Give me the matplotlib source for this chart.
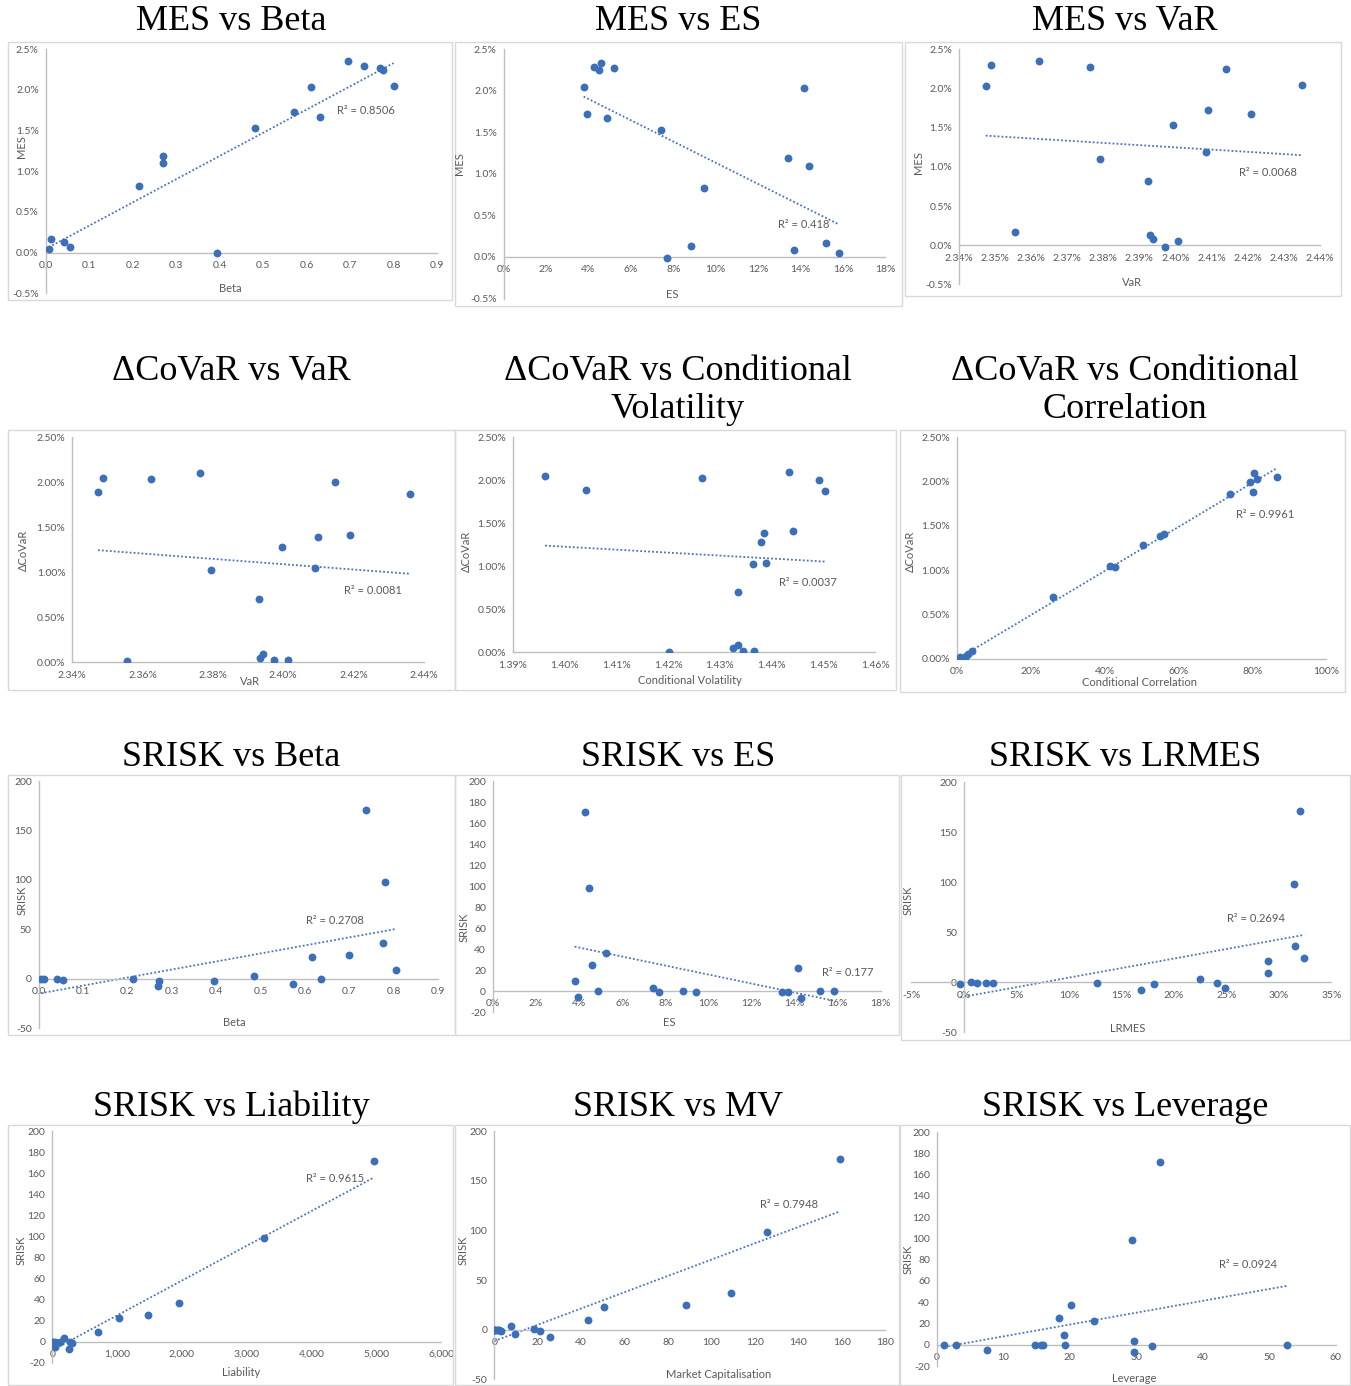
import numpy as np
import matplotlib
matplotlib.use('Agg')
import matplotlib.pyplot as plt
from matplotlib.ticker import MultipleLocator, FuncFormatter
from matplotlib.patches import Rectangle

# ---- data ----
# MES vs Beta
p1_beta = [0.007, 0.013, 0.043, 0.056, 0.214, 0.270, 0.270, 0.393, 0.481, 0.570, 0.611, 0.632, 0.696, 0.731, 0.768, 0.775, 0.800]
p1_mes = [0.05, 0.17, 0.13, 0.07, 0.82, 1.19, 1.10, -0.01, 1.53, 1.73, 2.04, 1.67, 2.35, 2.30, 2.27, 2.25, 2.05]
# MES vs ES
p2_es = [3.77, 3.93, 4.26, 4.48, 4.58, 4.87, 5.20, 7.44, 7.69, 8.82, 9.46, 13.43, 13.70, 14.17, 14.38, 15.19, 15.80]
p2_mes = [2.05, 1.72, 2.29, 2.25, 2.34, 1.67, 2.27, 1.53, -0.01, 0.13, 0.83, 1.19, 0.08, 2.03, 1.10, 0.17, 0.05]
# MES vs VaR
p3_var = [2.3474, 2.3488, 2.3555, 2.3623, 2.3762, 2.3791, 2.3925, 2.3929, 2.3939, 2.3971, 2.3992, 2.4008, 2.4085, 2.4090, 2.4139, 2.4209, 2.4350]
p3_mes = [2.03, 2.30, 0.17, 2.35, 2.27, 1.10, 0.82, 0.13, 0.08, -0.02, 1.53, 0.05, 1.19, 1.73, 2.25, 1.68, 2.05]
# dCoVaR vs VaR
p4_var = [2.3473, 2.3487, 2.3556, 2.3625, 2.3763, 2.3796, 2.3932, 2.3933, 2.3944, 2.3975, 2.3996, 2.4014, 2.4092, 2.4098, 2.4147, 2.4190, 2.4360]
p4_dcovar = [1.89, 2.05, 0.01, 2.04, 2.10, 1.03, 0.70, 0.05, 0.09, 0.02, 1.28, 0.03, 1.05, 1.39, 2.00, 1.41, 1.87]
# dCoVaR vs Conditional Volatility
p5_vol = [1.3962, 1.4041, 1.4201, 1.4265, 1.4325, 1.4334, 1.4334, 1.4345, 1.4363, 1.4365, 1.4380, 1.4385, 1.4388, 1.4434, 1.4441, 1.4492, 1.4503]
p5_dcovar = [2.05, 1.89, 0.00, 2.03, 0.05, 0.09, 0.70, 0.01, 1.03, 0.02, 1.28, 1.39, 1.04, 2.10, 1.41, 2.00, 1.87]
# dCoVaR vs Conditional Correlation
p6_corr = [0.9, 1.8, 2.4, 3.0, 4.0, 26.1, 41.3, 42.9, 50.5, 55.1, 56.0, 74.0, 79.3, 80.5, 80.2, 81.3, 86.7]
p6_dcovar = [0.02, 0.01, 0.03, 0.05, 0.09, 0.70, 1.05, 1.03, 1.28, 1.39, 1.41, 1.86, 2.00, 2.10, 1.88, 2.03, 2.05]
# SRISK vs Beta
p7_beta = [0.005, 0.013, 0.041, 0.054, 0.213, 0.272, 0.270, 0.394, 0.485, 0.574, 0.615, 0.636, 0.700, 0.737, 0.775, 0.781, 0.806]
p7_srisk = [0.0, -0.6, -0.3, -1.4, -0.7, -2.0, -7.1, -2.0, 3.0, -5.4, 21.6, -0.7, 24.3, 170.6, 36.1, 97.6, 9.1]
# SRISK vs ES
p8_es = [3.79, 3.93, 4.29, 4.47, 4.60, 4.88, 5.23, 7.43, 7.71, 8.84, 9.44, 13.40, 13.70, 14.16, 14.32, 15.20, 15.82]
p8_srisk = [9.5, -5.4, 171.0, 98.0, 24.8, 0.0, 36.6, 3.2, -1.3, -0.3, -0.6, -1.3, -1.3, 21.9, -7.0, 0.0, 0.0]
# SRISK vs LRMES
p9_lrmes = [-0.33, 0.65, 1.29, 2.11, 2.81, 12.65, 16.84, 18.08, 22.49, 24.08, 24.87, 29.0, 29.0, 31.41, 31.51, 32.05, 32.43]
p9_srisk = [-1.7, 0.3, -1.0, -0.3, -0.3, -0.3, -7.3, -1.7, 3.3, -0.7, -5.3, 9.0, 21.6, 98.5, 36.6, 171.0, 24.6]
# SRISK vs Liability
p10_liab = [0, 5, 15, 36, 41, 60, 120, 175, 257, 272, 300, 709, 1033, 1476, 1949, 3265, 4961]
p10_srisk = [-0.3, 0.0, -1.3, -0.6, -5.4, -1.0, -0.7, 3.2, -7.0, -0.3, -1.7, 9.5, 22.2, 25.1, 36.8, 98.4, 171.4]
# SRISK vs MV
p11_mv = [0.0, 0.3, 0.9, 1.5, 2.0, 3.1, 7.7, 9.4, 18.3, 21.2, 25.5, 43.3, 50.6, 88.1, 109.0, 125.7, 159.2]
p11_srisk = [0.0, -0.3, -0.7, -0.3, -0.7, -1.0, 3.7, -4.7, 0.3, -1.0, -7.4, 9.7, 22.5, 25.2, 36.9, 98.3, 171.8]
# SRISK vs Leverage
p12_lev = [1.1, 2.9, 7.5, 14.8, 15.7, 15.9, 18.3, 19.1, 19.2, 20.1, 23.7, 29.4, 29.6, 29.6, 32.4, 33.6, 52.6]
p12_srisk = [-0.6, -0.6, -5.3, -0.2, -0.2, -0.2, 24.8, 9.4, -0.3, 37.0, 21.9, 98.4, 3.1, -7.2, -0.8, 171.8, 0.0]

titles = ['MES vs Beta', 'MES vs ES', 'MES vs VaR',
          'ΔCoVaR vs VaR', 'ΔCoVaR vs Conditional\nVolatility', 'ΔCoVaR vs Conditional\nCorrelation',
          'SRISK vs Beta', 'SRISK vs ES', 'SRISK vs LRMES',
          'SRISK vs Liability', 'SRISK vs MV', 'SRISK vs Leverage']
xlabels = ['Beta', 'ES', 'VaR', 'VaR', 'Conditional Volatility', 'Conditional Correlation',
           'Beta', 'ES', 'LRMES', 'Liability', 'Market Capitalisation', 'Leverage']
ylabels = ['MES'] * 3 + ['ΔCoVaR'] * 3 + ['SRISK'] * 6
r2_labels = ['R² = 0.8506', 'R² = 0.418', 'R² = 0.0068', 'R² = 0.0081', 'R² = 0.0037', 'R² = 0.9961',
             'R² = 0.2708', 'R² = 0.177', 'R² = 0.2694', 'R² = 0.9615', 'R² = 0.7948', 'R² = 0.0924']
xs = [p1_beta, p2_es, p3_var, p4_var, p5_vol, p6_corr, p7_beta, p8_es, p9_lrmes, p10_liab, p11_mv, p12_lev]
ys = [p1_mes, p2_mes, p3_mes, p4_dcovar, p5_dcovar, p6_dcovar, p7_srisk, p8_srisk, p9_srisk, p10_srisk, p11_srisk, p12_srisk]

# ---- layout (pixels of the 1351x1386 image) ----
W, H = 1351, 1386

# plot area: x0, x1, ytop, ybottom (pixel)
areas = [(45.7, 437, 49.3, 293.3), (503.7, 885.3, 49.3, 298.5), (959, 1319.7, 49.3, 284.5),
         (72.3, 423.7, 437.3, 662.3), (513, 875.3, 437.3, 652.3), (957, 1326.3, 437.3, 658.7),
         (38.7, 438, 781.3, 1028), (493, 880.7, 781.3, 1012), (911.3, 1331.3, 782, 1032.3),
         (52.3, 441.3, 1131.3, 1362.7), (494.3, 885.3, 1131.3, 1379.3), (937, 1335.7, 1132, 1366)]
xlims = [(0, 0.9), (0, 18), (2.34, 2.44), (2.34, 2.44), (1.39, 1.46), (0, 100),
         (0, 0.9), (0, 18), (-5, 35), (0, 6000), (0, 180), (0, 60)]
ylims = [(-0.5, 2.5)] * 3 + [(0, 2.5)] * 3 + [(-50, 200), (-20, 200), (-50, 200),
                                              (-20, 200), (-50, 200), (-20, 200)]
xsteps = [0.1, 2, 0.01, 0.02, 0.01, 20, 0.1, 2, 5, 1000, 20, 10]
ysteps = [0.5] * 6 + [50, 20, 50, 20, 50, 20]
xfmts = ['{:.1f}', '{:.0f}%', '{:.2f}%', '{:.2f}%', '{:.2f}%', '{:.0f}%',
         '{:.1f}', '{:.0f}%', '{:.0f}%', '{:,.0f}', '{:.0f}', '{:.0f}']
yfmts = ['{:.1f}%'] * 3 + ['{:.2f}%'] * 3 + ['{:.0f}'] * 6
boxes = [(8, 42, 452, 300), (455, 42, 902, 306), (905, 42, 1341, 296),
         (8, 430, 455, 690), (455, 430, 896, 690), (900, 430, 1345, 692),
         (8, 775, 455, 1035), (455, 775, 899, 1035), (901, 775, 1350, 1040),
         (8, 1125, 453, 1385), (455, 1125, 899, 1385), (900, 1125, 1350, 1385)]
title_pos = [(231, 22), (678, 22), (1125, 22), (231, 371), (678, 391), (1125, 391),
             (231, 757), (678, 757), (1125, 757), (231, 1107), (678, 1107), (1125, 1107)]
xlabel_pos = [(230, 288), (672, 294), (1132, 283), (250, 681), (690, 680), (1140, 683),
              (234, 1023), (669, 1022), (1128, 1028), (241, 1373), (719, 1374), (1134, 1378)]
ylabel_pos = [(21, 147), (460, 164), (918, 163), (23, 550), (466, 551), (910, 551),
              (22, 900), (464, 927), (908, 900), (21, 1250), (463, 1250), (908, 1259)]
r2_pos = [(366, 111), (804, 225), (1268, 173), (373, 590), (808, 582), (1265, 515),
          (335, 920), (848, 973), (1256, 918), (335, 1179), (789, 1205), (1248, 1265)]

dot_color = '#3b6fb8'
line_color = '#4472C4'
text_gray = '#595959'
axis_gray = '#bfbfbf'

fig = plt.figure(figsize=(W / 100, H / 100), dpi=100)


def fx(px):
    return px / W


def fy(py):
    return 1 - py / H


for i in range(12):
    bx0, by0, bx1, by1 = boxes[i]
    fig.patches.append(Rectangle((fx(bx0), fy(by1)), (bx1 - bx0) / W, (by1 - by0) / H,
                                 transform=fig.transFigure, fill=False,
                                 edgecolor='#d9d9d9', linewidth=1.0))

    x0, x1, yt, yb = areas[i]
    ax = fig.add_axes([fx(x0), fy(yb), (x1 - x0) / W, (yb - yt) / H])
    ax.set_facecolor('none')
    x = np.array(xs[i], dtype=float)
    y = np.array(ys[i], dtype=float)

    ax.scatter(x, y, s=32, color=dot_color, zorder=3, linewidths=0)
    k, b = np.polyfit(x, y, 1)
    tx = np.array([x.min(), x.max()])
    ax.plot(tx, k * tx + b, color=line_color, linestyle=(0, (1, 1.2)), linewidth=1.3, zorder=2)

    ax.set_xlim(*xlims[i])
    ax.set_ylim(*ylims[i])
    ax.xaxis.set_major_locator(MultipleLocator(xsteps[i]))
    ax.yaxis.set_major_locator(MultipleLocator(ysteps[i]))
    xf, yf = xfmts[i], yfmts[i]
    ax.xaxis.set_major_formatter(FuncFormatter(lambda v, p, f=xf: f.format(round(v, 4) + 0.0)))
    ax.yaxis.set_major_formatter(FuncFormatter(lambda v, p, f=yf: f.format(round(v, 4) + 0.0)))

    xmin, xmax = xlims[i]
    ymin, ymax = ylims[i]
    xcross = 0 if xmin < 0 < xmax else xmin
    ycross = 0 if ymin < 0 < ymax else ymin
    ax.spines['left'].set_position(('data', xcross))
    ax.spines['bottom'].set_position(('data', ycross))
    for s in ['top', 'right']:
        ax.spines[s].set_visible(False)
    for s in ['left', 'bottom']:
        ax.spines[s].set_color(axis_gray)
        ax.spines[s].set_linewidth(1.0)
    ax.tick_params(length=0, labelsize=7.5, labelcolor=text_gray)
    ax.tick_params(axis='x', pad=6)
    ax.tick_params(axis='y', pad=5)
    for lab in ax.get_xticklabels() + ax.get_yticklabels():
        lab.set_fontfamily('Lato')

    fig.text(fx(title_pos[i][0]), fy(title_pos[i][1]), titles[i], ha='center', va='center',
             fontsize=26, family='Liberation Serif', linespacing=1.2, multialignment='center')
    fig.text(fx(xlabel_pos[i][0]), fy(xlabel_pos[i][1]), xlabels[i], ha='center', va='center',
             fontsize=8, color=text_gray, family='Lato')
    fig.text(fx(ylabel_pos[i][0]), fy(ylabel_pos[i][1]), ylabels[i], ha='center', va='center',
             fontsize=8, color=text_gray, family=['Lato', 'DejaVu Sans'], rotation=90)
    fig.text(fx(r2_pos[i][0]), fy(r2_pos[i][1]), r2_labels[i], ha='center', va='center',
             fontsize=8, color=text_gray, family=['Lato', 'DejaVu Sans'])

fig.savefig('out.png', dpi=100, facecolor='white')
